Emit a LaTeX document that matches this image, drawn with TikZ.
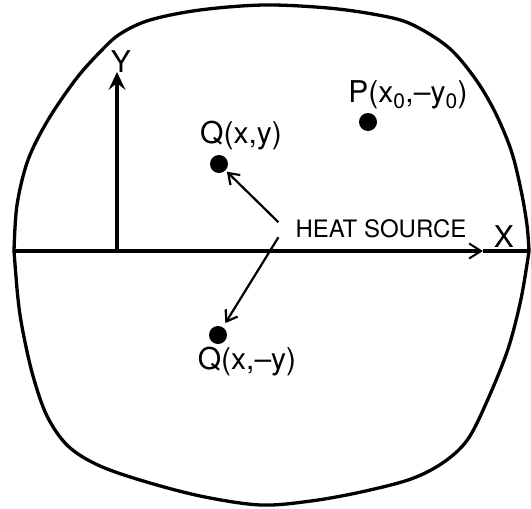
\documentclass[tikz,border=0pt]{standalone}
\usepackage{fontspec}
\setmainfont{TeX Gyre Heros}
\usepackage{tikz}
\usetikzlibrary{arrows.meta,positioning}
\tikzset{
  dot/.style={circle,fill=black,inner sep=0pt,minimum size=18pt,outer sep=2pt},
  lbl/.style={inner sep=0pt,anchor=base,font=\fontsize{30}{34}\selectfont},
  rim/.style={line width=3.3pt,line join=round,line cap=round},
  axis/.style={line width=3.4pt},
  xtip/.style={-{Straight Barb[length=12pt,width=15pt,line width=2pt]}},
  ytip/.style={-{Stealth[length=18pt,width=17pt,inset=7pt,line width=1pt]}},
  heatarrow/.style={-{Straight Barb[length=10pt,width=14pt]},line width=2.2pt},
}

\begin{document}
\begin{tikzpicture}[x=1pt,y=-1pt]
  \useasboundingbox (0,0) rectangle (531,509);
  % outline of the plate, upper and lower halves
  \draw[rim] plot[smooth,tension=0.55] coordinates {(14,251) (17,205) (28,160)
    (48,120) (76,79) (100,52) (120,34) (150,20) (200,10) (264,5) (328,8)
    (378,15) (411,24) (448,47) (474,77) (494,110) (511,150) (521,190)
    (527,225) (529,251)};
  \draw[rim] plot[smooth,tension=0.55] coordinates {(529,251) (521,299)
    (508,349) (488,399) (468,439) (444,462) (411,479) (361,492) (311,501)
    (261,505) (205,497) (150,483) (100,466) (68,446) (47,416) (33,376)
    (23,332) (18,299) (14,251)};

  \coordinate (bl) at (14,251);
  \coordinate (br) at (529,251);
  \coordinate (o) at (117,251);
  \coordinate (xt) at (483,251);
  \coordinate (yt) at (117,72);
  \draw[axis,xtip] (bl) -- (xt);
  \draw[axis] (xt) -- (br);
  \draw[axis,ytip] (o) -- (yt);
  \node[lbl] (xlab) at (504,247) {X};
  \node[lbl] (ylab) at (121,72) {Y};

  \node[dot] (p) at (368,122) {};
  \node[dot] (qa) at (219,164) {};
  \node[dot] (qb) at (218,335) {};
  \node[lbl] (plab) at (408,102) {P(x\textsubscript{0},–y\textsubscript{0})};
  \node[lbl] (qalab) at (241,143) {Q(x,y)};
  \node[lbl] (qblab) at (247,369) {Q(x,–y)};

  \node[lbl,font=\fontsize{24}{28}\selectfont,inner xsep=17pt] (hs) at (381,237) {HEAT SOURCE};
  \draw[heatarrow] ([yshift=6pt]hs.west) -- (qa);
  \draw[heatarrow,shorten >=3pt] ([yshift=-9pt]hs.west) -- (qb);
\end{tikzpicture}
\end{document}
